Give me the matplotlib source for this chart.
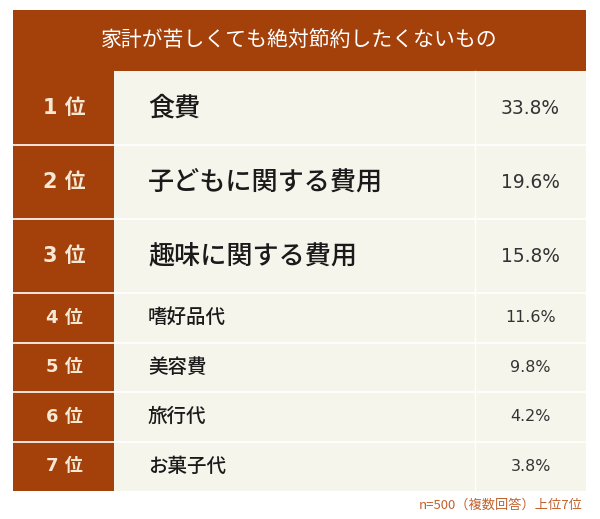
import matplotlib
matplotlib.use("Agg")
import matplotlib.pyplot as plt
from matplotlib.patches import Rectangle

plt.rcParams['font.family'] = ['Noto Sans CJK JP', 'DejaVu Sans']

title = "家計が苦しくても絶対節約したくないもの"
ranks = ["1位", "2位", "3位", "4位", "5位", "6位", "7位"]
items = ["食費", "子どもに関する費用", "趣味に関する費用", "嗜好品代", "美容費", "旅行代", "お菓子代"]
values = [33.8, 19.6, 15.8, 11.6, 9.8, 4.2, 3.8]
note = "n=500（複数回答）上位7位"

BROWN = "#A4400A"
CREAM = "#F6F5EC"
RANKTXT = "#F7E8D4"
LATIN = ['DejaVu Sans', 'Noto Sans CJK JP']

fig = plt.figure(figsize=(6.0, 5.19), dpi=100)
ax = fig.add_axes([0, 0, 1, 1])
ax.set_xlim(0, 600)
ax.set_ylim(519, 0)
ax.axis('off')

x0, x1, xr, xv = 13, 586, 114, 475
ax.add_patch(Rectangle((x0, 10), x1 - x0, 61, color=BROWN, lw=0))
ax.text((x0 + x1) / 2, 41, title, ha='center', va='center', color='white', fontsize=15)

heights = [74, 74, 74, 49.5, 49.5, 49.5, 49.5]
y = 71
for i, (r, it, v) in enumerate(zip(ranks, items, values)):
    h = heights[i]
    big = i < 3
    ax.add_patch(Rectangle((x0, y), xr - x0, h, color=BROWN, lw=0))
    ax.add_patch(Rectangle((xr, y), x1 - xr, h, color=CREAM, lw=0))
    if i > 0:
        ax.plot([x0, x1], [y, y], color='white', lw=1.2)
    ax.plot([xv, xv], [y, y + h], color='white', lw=1.0)
    cy = y + h / 2
    ax.text((x0 + xr) / 2 + 1, cy, r[0] + " " + r[1:], ha='center', va='center',
            color=RANKTXT, fontsize=15 if big else 13, fontweight='bold', family=LATIN)
    ax.text(148, cy, it, ha='left', va='center', color='#1a1a1a',
            fontsize=18.8 if big else 14, fontweight='medium')
    ax.text((xv + x1) / 2, cy, f"{v:.1f}%", ha='center', va='center', color='#333333',
            fontsize=13.4 if big else 11.4, family=LATIN)
    y += h

ax.text(583, 505, note, ha='right', va='center', color='#C0622E', fontsize=9.5)

fig.savefig("out.png", dpi=100)
